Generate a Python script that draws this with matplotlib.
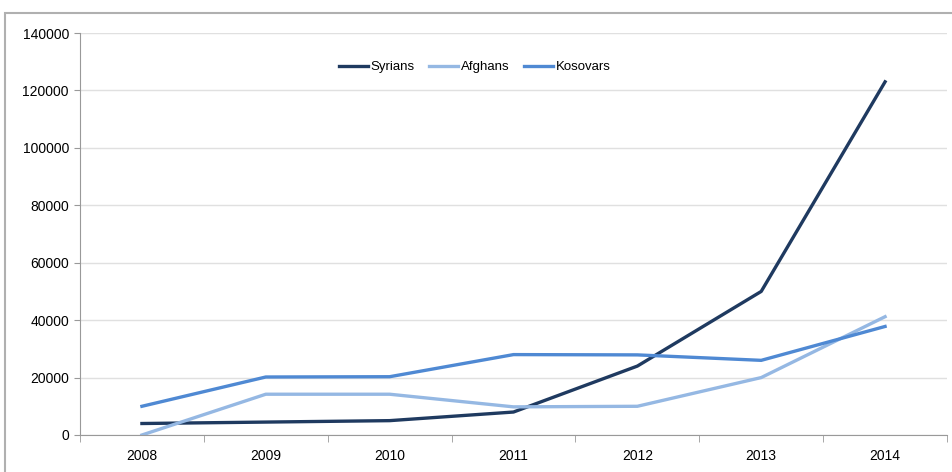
import matplotlib.pyplot as plt
from matplotlib.patches import Rectangle
import numpy as np

years = ["2008", "2009", "2010", "2011", "2012", "2013", "2014"]
syrians = [4000, 4500, 5000, 8000, 24000, 50000, 123000]
afghans = [0, 14200, 14200, 9800, 10000, 20000, 41200]
kosovars = [10000, 20200, 20300, 28000, 27900, 26000, 37800]

plt.rcParams["font.family"] = ["Liberation Sans Narrow", "Liberation Sans", "DejaVu Sans"]

fig = plt.figure(figsize=(9.52, 4.72), dpi=100)
ax = fig.add_axes([80 / 952, 1 - 435 / 472, 867 / 952, 402 / 472])

# chart border (extends past the picture on right and bottom)
fig.patches.append(Rectangle((5 / 952, -0.1), 1.2, 1 - 13 / 472 + 0.1,
                             transform=fig.transFigure, fill=False,
                             edgecolor="#b0b0b0", linewidth=1.5))

x = np.arange(len(years))
ax.plot(x, syrians, color="#1f3a60", lw=2.4, label="Syrians")
ax.plot(x, afghans, color="#95b8e3", lw=2.4, label="Afghans")
ax.plot(x, kosovars, color="#4f89d3", lw=2.4, label="Kosovars")

ax.set_xlim(-0.5, len(years) - 0.5)
ax.set_ylim(0, 140000)
ax.set_yticks(np.arange(0, 140001, 20000))
ax.set_xticks(x)
ax.set_xticklabels(years)
ax.set_xticks(np.arange(-0.5, len(years)), minor=True)
ax.tick_params(axis="x", which="major", length=0, pad=10, labelsize=10)
ax.tick_params(axis="x", which="minor", length=5, color="#999999")
ax.tick_params(axis="y", length=4, color="#999999", labelsize=10, pad=4)

ax.grid(axis="y", color="#e0e0e0", lw=1)
ax.set_axisbelow(True)
for s in ["top", "right"]:
    ax.spines[s].set_visible(False)
ax.spines["left"].set_color("#999999")
ax.spines["bottom"].set_color("#999999")

ax.legend(loc="upper center", bbox_to_anchor=(0.455, 0.96), ncol=3, frameon=False,
          fontsize=9.5, handlelength=2.2, columnspacing=1.1, handletextpad=0.2)

fig.savefig("out.png", dpi=100)
